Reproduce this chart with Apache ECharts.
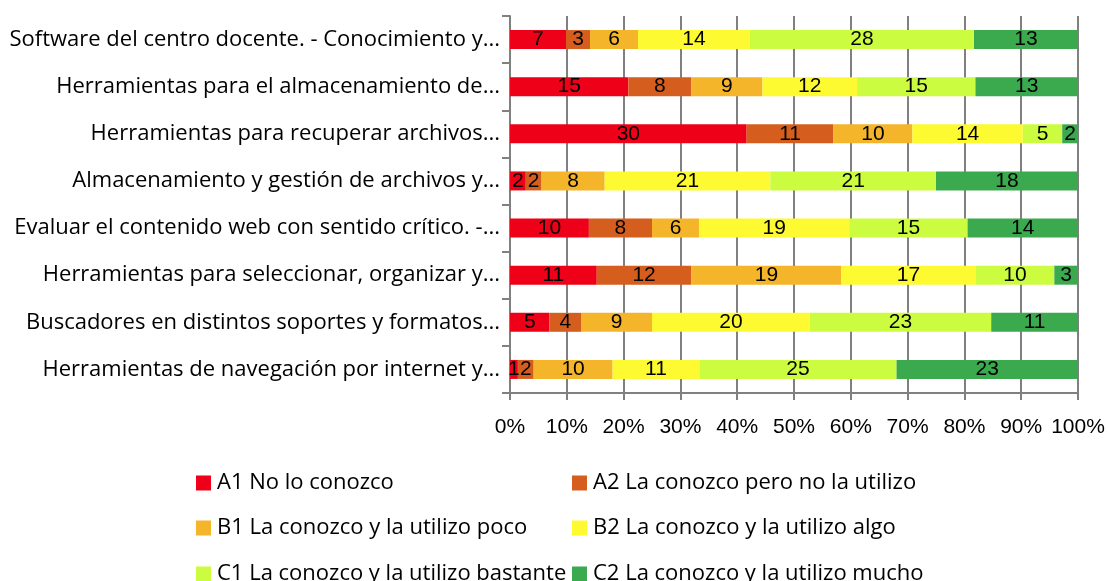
<!DOCTYPE html>
<html>
<head>
<meta charset="utf-8">
<script src="https://cdn.jsdelivr.net/npm/echarts@6/dist/echarts.min.js"></script>
<style>html,body{margin:0;padding:0;background:#fff;}#c{width:1108px;height:581px;}</style>
</head>
<body>
<div id="c"></div>
<script>
const categories = [
  "Software del centro docente. - Conocimiento y...",
  "Herramientas para el almacenamiento de...",
  "Herramientas para recuperar archivos...",
  "Almacenamiento y gestión de archivos y...",
  "Evaluar el contenido web con sentido crítico. -...",
  "Herramientas para seleccionar, organizar y...",
  "Buscadores en distintos soportes y formatos...",
  "Herramientas de navegación por internet y..."
];
const seriesNames = [
  "A1 No lo conozco",
  "A2 La conozco pero no la utilizo",
  "B1 La conozco y la utilizo poco",
  "B2 La conozco y la utilizo algo",
  "C1 La conozco y la utilizo bastante",
  "C2 La conozco y la utilizo mucho"
];
const A1 = [7, 15, 30, 2, 10, 11, 5, 1];
const A2 = [3, 8, 11, 2, 8, 12, 4, 2];
const B1 = [6, 9, 10, 8, 6, 19, 9, 10];
const B2 = [14, 12, 14, 21, 19, 17, 20, 11];
const C1 = [28, 15, 5, 21, 15, 10, 23, 25];
const C2 = [13, 13, 2, 18, 14, 3, 11, 23];
const xTicks = ["0%","10%","20%","30%","40%","50%","60%","70%","80%","90%","100%"];
const colors = ["#EE0018", "#D55E1E", "#F5B52A", "#FDFA32", "#CCFC3F", "#3BA94E"];

const allSeries = [A1, A2, B1, B2, C1, C2];
const totals = categories.map((_, i) => allSeries.reduce((s, arr) => s + arr[i], 0));
const NUMFONT = "Liberation Sans";
const TXTFONT = "Open Sans";

const series = allSeries.map((arr, k) => ({
  name: seriesNames[k],
  type: 'bar',
  stack: 'total',
  barWidth: 19,
  itemStyle: { color: colors[k] },
  label: {
    show: true, position: 'inside', color: '#000',
    fontFamily: NUMFONT, fontSize: 21,
    formatter: p => String(p.data.raw)
  },
  data: arr.map((v, i) => ({ value: v / totals[i] * 100, raw: v }))
}));

const legendPos = [
  [191, 467], [567, 467],
  [191, 512], [567, 512],
  [191, 558], [567, 558]
];
const legends = seriesNames.map((n, k) => ({
  data: [n], left: legendPos[k][0], top: legendPos[k][1],
  icon: 'rect', itemWidth: 15, itemHeight: 15, itemGap: 0,
  selectedMode: false,
  textStyle: { fontFamily: TXTFONT, fontSize: 22, color: '#000', padding: [0,0,0,1] }
}));

const chart = echarts.init(document.getElementById('c'));
chart.setOption({
  animation: false,
  legend: legends,
  grid: { left: 510, right: 30, top: 16, bottom: 188, containLabel: false },
  xAxis: {
    type: 'value', min: 0, max: 100, interval: 10,
    axisLabel: { formatter: v => xTicks[Math.round(v / 10)], fontFamily: NUMFONT, fontSize: 21, color: '#000', margin: 24 },
    axisLine: { show: true, lineStyle: { color: '#808080', width: 2 } },
    axisTick: { show: true, length: 7, lineStyle: { color: '#808080', width: 2 } },
    splitLine: { show: true, lineStyle: { color: '#808080', width: 2 } }
  },
  yAxis: {
    type: 'category', data: categories, inverse: true,
    axisLabel: { fontFamily: TXTFONT, fontSize: 22, color: '#000', margin: 10 },
    axisLine: { show: true, lineStyle: { color: '#808080', width: 2 } },
    axisTick: { show: true, length: 8, lineStyle: { color: '#808080', width: 2 } },
    splitLine: { show: false }
  },
  series: series
});
</script>
</body>
</html>
